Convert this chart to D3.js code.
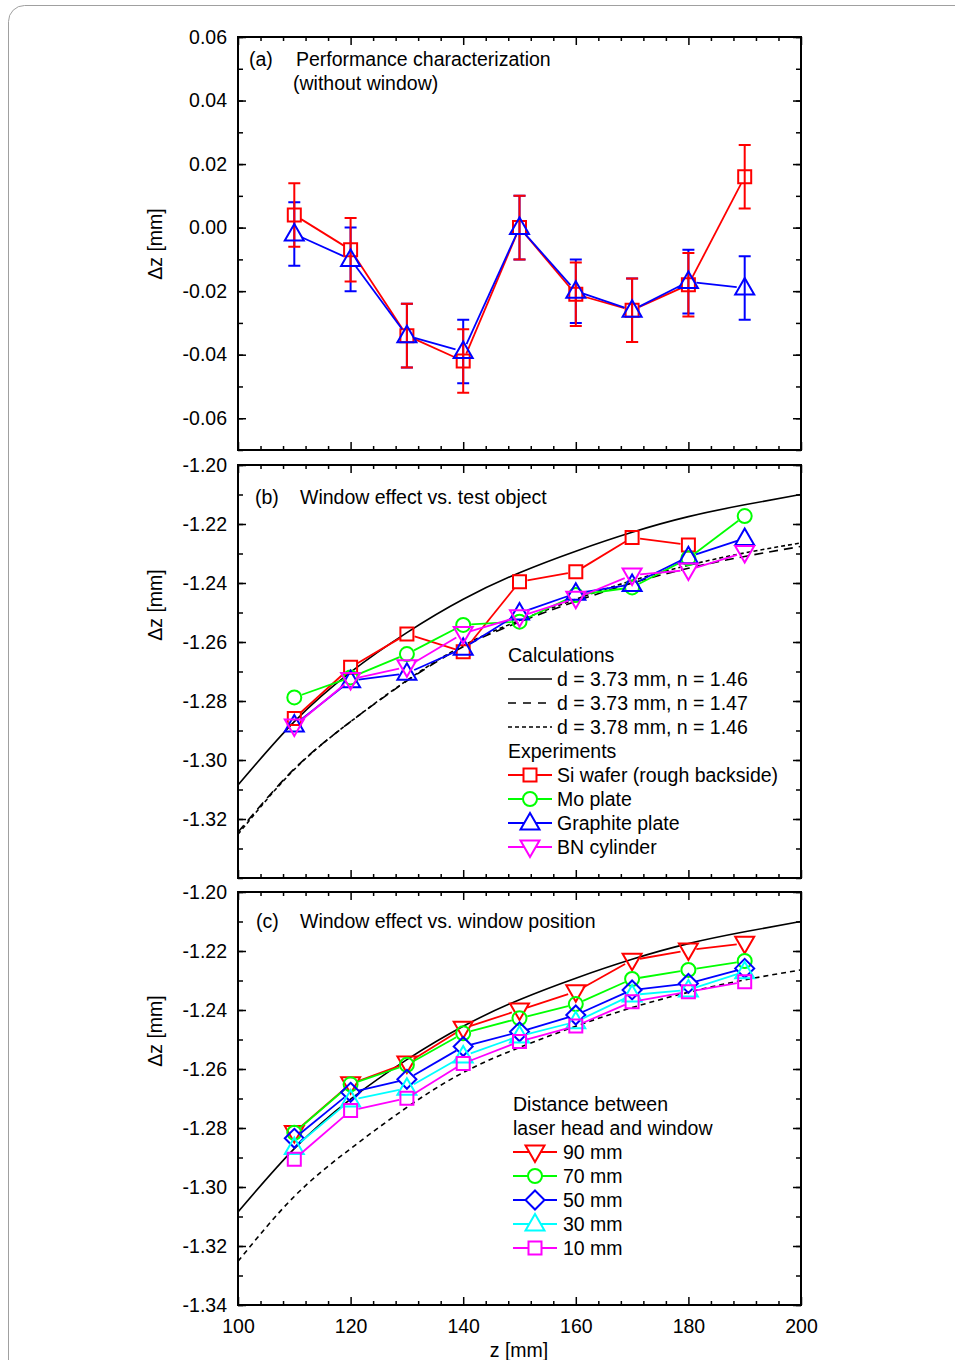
<!DOCTYPE html>
<html>
<head>
<meta charset="utf-8">
<script src="https://cdn.jsdelivr.net/npm/d3@7"></script>
<style>
  body { margin: 0; background: #fff; }
  svg { display: block; font-family: "Liberation Sans", Arial, sans-serif; }
</style>
</head>
<body>
<svg id="chart"></svg>
<script>
const width = 955;
const height = 1360;

// ---- data ----
const zPts = [110, 120, 130, 140, 150, 160, 170, 180, 190];

// (a) without window
const siA      = [0.004, -0.007, -0.034, -0.042, 0.000, -0.021, -0.026, -0.018, 0.016];
const siAErr   = [0.010, 0.010, 0.010, 0.010, 0.010, 0.010, 0.010, 0.010, 0.010];
const graphA   = [-0.002, -0.010, -0.034, -0.039, 0.000, -0.020, -0.026, -0.017, -0.019];
const graphAErr = [0.010, 0.010, 0.010, 0.010, 0.010, 0.010, 0.010, 0.010, 0.010];

// calculations
const calcZ      = [100, 110, 120, 130, 140, 150, 160, 170, 180, 190, 200];
const calcSolid  = [-1.3085, -1.2870, -1.2702, -1.2568, -1.2455, -1.2365, -1.2292, -1.2228, -1.2175, -1.2135, -1.2100];
const calcDashed = [-1.3245, -1.3030, -1.2870, -1.2732, -1.2616, -1.2532, -1.2462, -1.2400, -1.2350, -1.2310, -1.2276];
const calcDotted = [-1.3252, -1.3032, -1.2870, -1.2730, -1.2612, -1.2527, -1.2455, -1.2392, -1.2340, -1.2298, -1.2264];

// (b) test objects
const siB    = [-1.2859, -1.2686, -1.2573, -1.2633, -1.2396, -1.2362, -1.2246, -1.2271];
const moB    = [-1.2788, -1.2720, -1.2641, -1.2542, -1.2531, -1.2441, -1.2415, -1.2316, -1.2173];
const graphB = [-1.2881, -1.2731, -1.2706, -1.2621, -1.2502, -1.2435, -1.2405, -1.2311, -1.2249];
const bnB    = [-1.2885, -1.2727, -1.2684, -1.2571, -1.2514, -1.2452, -1.2373, -1.2356, -1.2297];

// (c) window position
const d90 = [-1.2815, -1.2650, -1.2580, -1.2462, -1.2400, -1.2338, -1.2231, -1.2197, -1.2174];
const d70 = [-1.2816, -1.2652, -1.2586, -1.2479, -1.2428, -1.2380, -1.2295, -1.2264, -1.2234];
const d50 = [-1.2835, -1.2679, -1.2635, -1.2524, -1.2474, -1.2417, -1.2332, -1.2310, -1.2259];
const d30 = [-1.2866, -1.2705, -1.2665, -1.2556, -1.2488, -1.2440, -1.2349, -1.2332, -1.2270];
const d10 = [-1.2906, -1.2741, -1.2699, -1.2581, -1.2507, -1.2454, -1.2372, -1.2338, -1.2304];

const ticksA = [0.06, 0.04, 0.02, 0.00, -0.02, -0.04, -0.06];
const ticksB = [-1.20, -1.22, -1.24, -1.26, -1.28, -1.30, -1.32];
const ticksC = [-1.20, -1.22, -1.24, -1.26, -1.28, -1.30, -1.32, -1.34];
const ticksX = [100, 120, 140, 160, 180, 200];

// ---- layout ----
const left = 238, right = 801;
const fs = 19.5;

const svg = d3.select("#chart")
    .attr("width", width)
    .attr("height", height);

svg.append("rect")
    .attr("x", 8.5).attr("y", 5.5)
    .attr("width", 980).attr("height", 1420)
    .attr("rx", 16)
    .attr("fill", "none")
    .attr("stroke", "#a0a0a0")
    .attr("stroke-width", 1);

const x = d3.scaleLinear().domain([100, 200]).range([left, right]);

function markerPath(type) {
    switch (type) {
        case "square": return "M-6.5,-6.5H6.5V6.5H-6.5Z";
        case "circle": return "M7,0A7,7 0 1,1 -7,0A7,7 0 1,1 7,0Z";
        case "up": return "M0,-10L9.5,6.5L-9.5,6.5Z";
        case "down": return "M0,10L9.5,-6.5L-9.5,-6.5Z";
        case "diamond": return "M0,-9.5L9.5,0L0,9.5L-9.5,0Z";
    }
}

function makePanel(top, bottom, domain, tickVals, minorStep, showX) {
    const y = d3.scaleLinear().domain(domain).range([bottom, top]);
    const g = svg.append("g");

    const minorX = d3.range(100, 201, 4).filter(v => v % 20 !== 0);
    const minorY = d3.range(Math.round(domain[0] / minorStep), Math.round(domain[1] / minorStep) + 1)
        .map(i => i * minorStep);

    const fmt = v => v.toFixed(2);

    // y ticks, left with labels
    g.append("g").attr("transform", `translate(${left},0)`)
        .call(d3.axisLeft(y).tickValues(tickVals).tickSize(-8).tickPadding(11).tickFormat(fmt));
    g.append("g").attr("transform", `translate(${left},0)`)
        .call(d3.axisLeft(y).tickValues(minorY).tickSize(-5).tickFormat(""));
    g.append("g").attr("transform", `translate(${right},0)`)
        .call(d3.axisRight(y).tickValues(tickVals).tickSize(-8).tickFormat(""));
    g.append("g").attr("transform", `translate(${right},0)`)
        .call(d3.axisRight(y).tickValues(minorY).tickSize(-5).tickFormat(""));

    // x ticks, top and bottom
    g.append("g").attr("transform", `translate(0,${top})`)
        .call(d3.axisTop(x).tickValues(ticksX).tickSize(-8).tickFormat(""));
    g.append("g").attr("transform", `translate(0,${top})`)
        .call(d3.axisTop(x).tickValues(minorX).tickSize(-4).tickFormat(""));
    g.append("g").attr("transform", `translate(0,${bottom})`)
        .call(d3.axisBottom(x).tickValues(ticksX).tickSize(-8).tickPadding(14)
            .tickFormat(showX ? d3.format("d") : ""));
    g.append("g").attr("transform", `translate(0,${bottom})`)
        .call(d3.axisBottom(x).tickValues(minorX).tickSize(-4).tickFormat(""));

    g.selectAll(".domain").remove();
    g.selectAll(".tick line").attr("stroke", "#000").attr("stroke-width", 1.5);
    g.selectAll(".tick text").attr("font-size", fs).attr("fill", "#000")
        .attr("font-family", "Liberation Sans, Arial, sans-serif");

    g.append("rect")
        .attr("x", left).attr("y", top)
        .attr("width", right - left).attr("height", bottom - top)
        .attr("fill", "none").attr("stroke", "#000").attr("stroke-width", 2);

    const clipId = "clip" + top;
    svg.append("clipPath").attr("id", clipId)
        .append("rect").attr("x", left).attr("y", top)
        .attr("width", right - left).attr("height", bottom - top);
    const plot = svg.append("g").attr("clip-path", `url(#${clipId})`);

    return { y, plot };
}

function drawCurve(p, vals, dash) {
    p.plot.append("path")
        .datum(calcZ.map((z, i) => [z, vals[i]]))
        .attr("fill", "none")
        .attr("stroke", "#000")
        .attr("stroke-width", 1.6)
        .attr("stroke-dasharray", dash)
        .attr("d", d3.line().x(d => x(d[0])).y(d => p.y(d[1])).curve(d3.curveNatural));
}

function drawErrors(p, vals, errs, color) {
    const g = p.plot.append("g");
    vals.forEach((v, i) => {
        const cx = x(zPts[i]);
        const y1 = p.y(v + errs[i]), y2 = p.y(v - errs[i]);
        g.append("path")
            .attr("d", `M${cx},${y1}V${y2}M${cx - 6},${y1}H${cx + 6}M${cx - 6},${y2}H${cx + 6}`)
            .attr("stroke", color).attr("stroke-width", 2).attr("fill", "none");
    });
}

function drawSeries(p, vals, color, shape) {
    const pts = vals.map((v, i) => [x(zPts[i]), p.y(v)]);
    const gap = 8;
    const g = p.plot.append("g");
    for (let i = 0; i < pts.length - 1; i++) {
        const [ax, ay] = pts[i], [bx, by] = pts[i + 1];
        const len = Math.hypot(bx - ax, by - ay);
        if (len <= 2 * gap) continue;
        const ux = (bx - ax) / len, uy = (by - ay) / len;
        g.append("line")
            .attr("x1", ax + ux * gap).attr("y1", ay + uy * gap)
            .attr("x2", bx - ux * gap).attr("y2", by - uy * gap)
            .attr("stroke", color).attr("stroke-width", 1.8);
    }
    g.selectAll(".mk").data(pts).enter().append("path")
        .attr("class", "mk")
        .attr("d", markerPath(shape))
        .attr("transform", d => `translate(${d[0]},${d[1]})`)
        .attr("fill", "none")
        .attr("stroke", color).attr("stroke-width", 2);
}

function text(xp, yp, s, opts = {}) {
    return svg.append("text")
        .attr("x", xp).attr("y", yp)
        .attr("dy", "0.35em")
        .attr("font-size", opts.size || fs)
        .attr("text-anchor", opts.anchor || "start")
        .attr("fill", "#000")
        .text(s);
}

function legendItem(lx, ly, color, shape, label, tx) {
    svg.append("line").attr("x1", lx).attr("x2", lx + 44).attr("y1", ly).attr("y2", ly)
        .attr("stroke", color).attr("stroke-width", 1.8);
    svg.append("path").attr("d", markerPath(shape))
        .attr("transform", `translate(${lx + 22},${ly})`)
        .attr("fill", "#fff").attr("stroke", color).attr("stroke-width", 2);
    text(tx, ly, label);
}

// ---- panel (a) ----
const pa = makePanel(37, 450, [-0.07, 0.06], ticksA, 0.01, false);
drawErrors(pa, graphA, graphAErr, "#0000ff");
drawErrors(pa, siA, siAErr, "#ff0000");
drawSeries(pa, siA, "#ff0000", "square");
drawSeries(pa, graphA, "#0000ff", "up");
text(249, 59, "(a)");
text(296, 59, "Performance characterization");
text(293, 83, "(without window)");

// ---- panel (b) ----
const pb = makePanel(465, 878, [-1.34, -1.20], ticksB, 0.01, false);
drawCurve(pb, calcSolid, null);
drawCurve(pb, calcDashed, "9,6");
drawCurve(pb, calcDotted, "4,3");
drawSeries(pb, siB, "#ff0000", "square");
drawSeries(pb, moB, "#00ff00", "circle");
drawSeries(pb, graphB, "#0000ff", "up");
drawSeries(pb, bnB, "#ff00ff", "down");
text(255, 497, "(b)");
text(300, 497, "Window effect vs. test object");

text(508, 655, "Calculations");
[[null, "d = 3.73 mm, n = 1.46"], ["8,7", "d = 3.73 mm, n = 1.47"], ["4,3", "d = 3.78 mm, n = 1.46"]]
    .forEach((d, i) => {
        const ly = 679 + i * 24;
        svg.append("line").attr("x1", 508).attr("x2", 552).attr("y1", ly).attr("y2", ly)
            .attr("stroke", "#000").attr("stroke-width", 1.6)
            .attr("stroke-dasharray", d[0]);
        text(557, ly, d[1]);
    });
text(508, 751, "Experiments");
legendItem(508, 775, "#ff0000", "square", "Si wafer (rough backside)", 557);
legendItem(508, 799, "#00ff00", "circle", "Mo plate", 557);
legendItem(508, 823, "#0000ff", "up", "Graphite plate", 557);
legendItem(508, 847, "#ff00ff", "down", "BN cylinder", 557);

// ---- panel (c) ----
const pc = makePanel(892, 1305, [-1.34, -1.20], ticksC, 0.01, true);
drawCurve(pc, calcSolid, null);
drawCurve(pc, calcDotted, "5,4");
drawSeries(pc, d90, "#ff0000", "down");
drawSeries(pc, d70, "#00ff00", "circle");
drawSeries(pc, d50, "#0000ff", "diamond");
drawSeries(pc, d30, "#00ffff", "up");
drawSeries(pc, d10, "#ff00ff", "square");
text(256, 921, "(c)");
text(300, 921, "Window effect vs. window position");

text(513, 1104, "Distance between");
text(513, 1128, "laser head and window");
legendItem(513, 1152, "#ff0000", "down", "90 mm", 563);
legendItem(513, 1176, "#00ff00", "circle", "70 mm", 563);
legendItem(513, 1200, "#0000ff", "diamond", "50 mm", 563);
legendItem(513, 1224, "#00ffff", "up", "30 mm", 563);
legendItem(513, 1248, "#ff00ff", "square", "10 mm", 563);

// ---- axis titles ----
[244, 605, 1031].forEach(cy => {
    svg.append("text")
        .attr("transform", `translate(155,${cy}) rotate(-90)`)
        .attr("dy", "0.35em")
        .attr("text-anchor", "middle")
        .attr("font-size", fs)
        .text("Δz [mm]");
});
text(519, 1350, "z [mm]", { anchor: "middle" });
</script>
</body>
</html>
